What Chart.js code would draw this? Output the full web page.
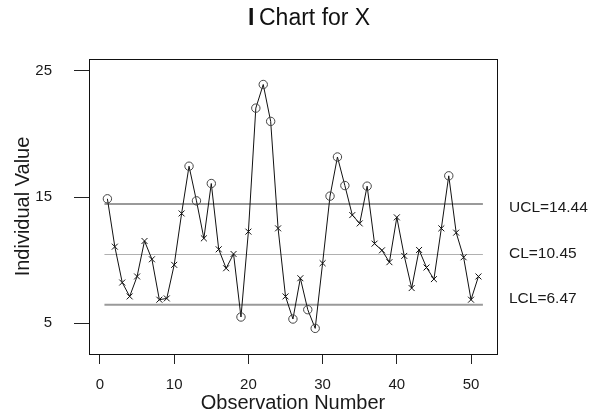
<!DOCTYPE html>
<html>
<head>
<meta charset="utf-8">
<title>I Chart for X</title>
<script src="https://cdn.jsdelivr.net/npm/chart.js@4"></script>
<style>
  html, body { margin: 0; padding: 0; background: #fff; }
  canvas { display: block; }
</style>
</head>
<body>
<canvas id="ichart" width="599" height="414"></canvas>
<script>
// Individual values, observation 1..51
const observations = Array.from({ length: 51 }, (_, i) => i + 1);
const values = [
  14.86, 11.07, 8.23, 7.13, 8.71, 11.52, 10.07, 6.87, 6.97, 9.63,
  13.70, 17.44, 14.70, 11.73, 16.07, 10.86, 9.36, 10.49, 5.50, 12.26,
  22.04, 23.91, 20.99, 12.52, 7.13, 5.34, 8.57, 6.08, 4.60, 9.76,
  15.07, 18.17, 15.91, 13.57, 12.91, 15.86, 11.31, 10.78, 9.84, 13.39,
  10.34, 7.79, 10.81, 9.42, 8.50, 12.52, 16.68, 12.18, 10.23, 6.87,
  8.71
];

// Control limits
const limitNames = ['UCL', 'CL', 'LCL'];
const limitValues = [14.44, 10.45, 6.47];
const limitSpan = [0.6, 51.6]; // x range the limit lines cover

// Axis ticks
const xTicks = [0, 10, 20, 30, 40, 50];
const yTicks = [5, 15, 25];

const ucl = limitValues[0];
const lcl = limitValues[2];
const outside = values.map(v => v > ucl || v < lcl);

const TEXT = '#1a1a1a';
const FONT = '"Liberation Sans", Arial, Helvetica, sans-serif';

// Frame, title and limit labels
const decorations = {
  id: 'decorations',
  afterDraw(chart) {
    const { ctx, chartArea: a, scales } = chart;
    ctx.save();

    // box around the plot
    ctx.strokeStyle = '#111';
    ctx.lineWidth = 1;
    ctx.strokeRect(a.left + 0.5, a.top + 0.5, a.right - a.left, a.bottom - a.top);

    // title, bold "I" then plain text
    ctx.fillStyle = '#111';
    ctx.textBaseline = 'alphabetic';
    ctx.textAlign = 'left';
    ctx.font = 'bold 23px ' + FONT;
    ctx.fillText('I', 248, 25);
    ctx.font = '23px ' + FONT;
    ctx.fillText('Chart for X', 259, 25);

    // limit labels on the right
    const nudge = [4, -1, -6];
    ctx.font = '15.5px ' + FONT;
    ctx.fillStyle = TEXT;
    ctx.textBaseline = 'middle';
    limitNames.forEach((name, i) => {
      const y = scales.y.getPixelForValue(limitValues[i]) + nudge[i];
      ctx.fillText(name + '=' + limitValues[i].toFixed(2), a.right + 12, y);
    });
    ctx.restore();
  }
};

const limitColors = ['#9a9a9a', '#b0b0b0', '#9a9a9a'];
const limitWidths = [2, 1.2, 2];

const limitDatasets = limitNames.map((name, i) => ({
  label: name,
  data: limitSpan.map(x => ({ x, y: limitValues[i] })),
  borderColor: limitColors[i],
  borderWidth: limitWidths[i],
  pointRadius: 0,
  order: 2
}));

const chart = new Chart(document.getElementById('ichart'), {
  type: 'line',
  data: {
    datasets: [
      {
        label: 'X',
        data: observations.map((x, i) => ({ x, y: values[i] })),
        borderColor: '#111',
        borderWidth: 1,
        tension: 0,
        pointStyle: outside.map(o => o ? 'circle' : 'crossRot'),
        pointRadius: outside.map(o => o ? 4.2 : 4.2),
        pointBorderWidth: 1,
        pointBorderColor: outside.map(o => o ? '#444' : '#111'),
        pointBackgroundColor: 'rgba(0,0,0,0)',
        order: 1
      },
      ...limitDatasets
    ]
  },
  options: {
    responsive: false,
    devicePixelRatio: 1,
    animation: false,
    layout: { padding: { top: 59, right: 102, left: 0, bottom: 0 } },
    plugins: {
      legend: { display: false },
      tooltip: { enabled: false },
      title: { display: false }
    },
    scales: {
      x: {
        type: 'linear',
        min: -1.48,
        max: 53.5,
        afterBuildTicks: s => { s.ticks = xTicks.map(v => ({ value: v })); },
        afterFit: s => { s.height = 60; },
        border: { display: false },
        grid: { drawOnChartArea: false, tickLength: 10, color: '#222' },
        ticks: { color: TEXT, font: { family: FONT, size: 15 }, padding: 12, maxRotation: 0 },
        title: {
          display: true,
          text: 'Observation Number',
          color: TEXT,
          font: { family: FONT, size: 20, lineHeight: 1 },
          padding: { top: 0, bottom: 1 }
        }
      },
      y: {
        type: 'linear',
        min: 2.57,
        max: 25.93,
        afterBuildTicks: s => { s.ticks = yTicks.map(v => ({ value: v })); },
        afterFit: s => { s.width = 89; },
        border: { display: false },
        grid: { drawOnChartArea: false, tickLength: 15, color: '#222' },
        ticks: { color: TEXT, font: { family: FONT, size: 15 }, padding: 22 },
        title: {
          display: true,
          text: 'Individual Value',
          color: TEXT,
          font: { family: FONT, size: 20, lineHeight: 1 },
          padding: { top: 13, bottom: 0 }
        }
      }
    }
  },
  plugins: [decorations]
});
</script>
</body>
</html>
